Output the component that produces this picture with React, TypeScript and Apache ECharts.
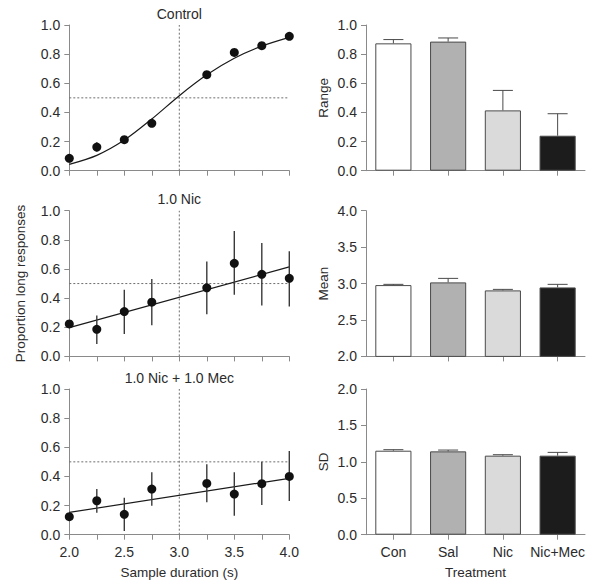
import React, { useEffect, useRef } from "react";
import * as echarts from "echarts";

// ---- Data ----
const durations = [2.0, 2.25, 2.5, 2.75, 3.25, 3.5, 3.75, 4.0];

const controlMean = [0.085, 0.162, 0.213, 0.325, 0.659, 0.812, 0.858, 0.922];
const controlLow = [0.075, 0.13, 0.195, 0.31, 0.65, 0.8, 0.85, 0.915];
const controlHigh = [0.095, 0.195, 0.235, 0.34, 0.668, 0.824, 0.866, 0.93];

const nicMean = [0.223, 0.186, 0.308, 0.372, 0.471, 0.639, 0.563, 0.536];
const nicLow = [0.205, 0.085, 0.154, 0.214, 0.29, 0.423, 0.349, 0.343];
const nicHigh = [0.24, 0.28, 0.457, 0.531, 0.651, 0.86, 0.779, 0.722];

const mecMean = [0.124, 0.233, 0.14, 0.313, 0.352, 0.279, 0.35, 0.4];
const mecLow = [0.11, 0.151, 0.025, 0.199, 0.222, 0.13, 0.204, 0.231];
const mecHigh = [0.14, 0.313, 0.254, 0.428, 0.483, 0.428, 0.501, 0.574];

// fitted curves
const controlFitX = [2.0, 2.25, 2.5, 2.75, 3.0, 3.25, 3.5, 3.75, 4.0];
const controlFitY = [0.043, 0.105, 0.21, 0.355, 0.515, 0.658, 0.772, 0.855, 0.915];
const nicFitX = [2.0, 4.0];
const nicFitY = [0.198, 0.614];
const mecFitX = [2.0, 4.0];
const mecFitY = [0.153, 0.387];

const criterion = 0.5;
const bisection = 3.0;

const panelTitles = ["Control", "1.0 Nic", "1.0 Nic + 1.0 Mec"];

const treatments = ["Con", "Sal", "Nic", "Nic+Mec"];
const rangeVals = [0.874, 0.886, 0.414, 0.24];
const rangeErr = [0.9, 0.911, 0.551, 0.391];
const meanVals = [2.979, 3.016, 2.906, 2.947];
const meanErr = [2.989, 3.071, 2.92, 2.989];
const sdVals = [1.153, 1.144, 1.085, 1.085];
const sdErr = [1.167, 1.162, 1.098, 1.13];

const barColors = ["#ffffff", "#b1b1b1", "#dadada", "#1c1c1c"];

const FONT = "Liberation Sans";
const TXT = "#2b2b2b";
const AX = "#8a8a8a";

export default function App() {
  const ref = useRef<HTMLDivElement>(null);

  useEffect(() => {
    document.body.style.margin = "0";
    const chart = echarts.init(ref.current!, null, { renderer: "svg" });

    const leftTops = [25, 210.7, 389];
    const H = 145.7;
    const grids: any[] = [];
    const xAxes: any[] = [];
    const yAxes: any[] = [];
    const series: any[] = [];

    const leftSets = [
      { mean: controlMean, low: controlLow, high: controlHigh, fx: controlFitX, fy: controlFitY },
      { mean: nicMean, low: nicLow, high: nicHigh, fx: nicFitX, fy: nicFitY },
      { mean: mecMean, low: mecLow, high: mecHigh, fx: mecFitX, fy: mecFitY },
    ];

    const axisCommon = {
      axisLine: { show: true, lineStyle: { color: AX, width: 1 } },
      axisTick: { show: true, length: 5, lineStyle: { color: AX } },
      splitLine: { show: false },
    };

    leftSets.forEach((s, k) => {
      const gi = grids.length;
      grids.push({ left: 69.3, top: leftTops[k], width: 220, height: H, containLabel: false });
      xAxes.push({
        gridIndex: gi,
        type: "value",
        min: 2,
        max: 4,
        interval: 0.25,
        ...axisCommon,
        axisLabel: {
          show: k === 2,
          margin: 10,
          fontFamily: FONT,
          fontSize: 14,
          color: TXT,
          formatter: (v: number) => (Math.abs(v * 2 - Math.round(v * 2)) < 1e-6 ? v.toFixed(1) : ""),
        },
        name: k === 2 ? "Sample duration (s)" : "",
        nameLocation: "middle",
        nameGap: 31,
        nameTextStyle: { fontFamily: FONT, fontSize: 13.5, color: TXT },
      });
      yAxes.push({
        gridIndex: gi,
        type: "value",
        min: 0,
        max: 1,
        interval: 0.2,
        ...axisCommon,
        axisLabel: { margin: 9, fontFamily: FONT, fontSize: 14, color: TXT, formatter: (v: number) => v.toFixed(1) },
        name: k === 1 ? "Proportion long responses" : "",
        nameLocation: "middle",
        nameGap: 42,
        nameRotate: 90,
        nameTextStyle: { fontFamily: FONT, fontSize: 13.5, color: TXT },
      });
      const dotted = { type: [2, 2], color: "#6e6e6e", width: 1 };
      series.push({
        type: "line",
        xAxisIndex: gi,
        yAxisIndex: gi,
        data: [[2, criterion], [4, criterion]],
        symbol: "none",
        lineStyle: dotted,
        silent: true,
        z: 1,
      });
      series.push({
        type: "line",
        xAxisIndex: gi,
        yAxisIndex: gi,
        data: [[bisection, 0], [bisection, 1]],
        symbol: "none",
        lineStyle: dotted,
        silent: true,
        z: 1,
      });
      series.push({
        type: "line",
        xAxisIndex: gi,
        yAxisIndex: gi,
        data: s.fx.map((x, i) => [x, s.fy[i]]),
        symbol: "none",
        smooth: 0.3,
        lineStyle: { color: "#1a1a1a", width: 1.2 },
        z: 2,
      });
      series.push({
        type: "custom",
        xAxisIndex: gi,
        yAxisIndex: gi,
        data: durations.map((d, i) => [d, s.low[i], s.high[i]]),
        encode: { x: 0, y: [1, 2] },
        renderItem: (params: any, api: any) => {
          const a = api.coord([api.value(0), api.value(1)]);
          const b = api.coord([api.value(0), api.value(2)]);
          return {
            type: "line",
            shape: { x1: a[0], y1: a[1], x2: b[0], y2: b[1] },
            style: { stroke: "#3a3a3a", lineWidth: 1.4 },
          };
        },
        z: 3,
      });
      series.push({
        type: "scatter",
        xAxisIndex: gi,
        yAxisIndex: gi,
        data: durations.map((d, i) => [d, s.mean[i]]),
        symbol: "circle",
        symbolSize: 9,
        itemStyle: { color: "#111111", opacity: 1 },
        z: 4,
      });
    });

    const rightSets = [
      { vals: rangeVals, err: rangeErr, min: 0, max: 1, interval: 0.2, name: "Range" },
      { vals: meanVals, err: meanErr, min: 2, max: 4, interval: 0.5, name: "Mean" },
      { vals: sdVals, err: sdErr, min: 0, max: 2, interval: 0.5, name: "SD" },
    ];

    rightSets.forEach((s, k) => {
      const gi = grids.length;
      grids.push({ left: 366, top: leftTops[k], width: 219, height: H, containLabel: false });
      xAxes.push({
        gridIndex: gi,
        type: "category",
        data: treatments,
        ...axisCommon,
        axisTick: { show: true, length: 5, alignWithLabel: true, lineStyle: { color: AX } },
        axisLabel: { show: k === 2, margin: 10, fontFamily: FONT, fontSize: 14, color: TXT, interval: 0 },
        name: k === 2 ? "Treatment" : "",
        nameLocation: "middle",
        nameGap: 31,
        nameTextStyle: { fontFamily: FONT, fontSize: 13.5, color: TXT },
      });
      yAxes.push({
        gridIndex: gi,
        type: "value",
        min: s.min,
        max: s.max,
        interval: s.interval,
        ...axisCommon,
        axisLabel: { margin: 9, fontFamily: FONT, fontSize: 14, color: TXT, formatter: (v: number) => v.toFixed(1) },
        name: s.name,
        nameLocation: "middle",
        nameGap: 36,
        nameRotate: 90,
        nameTextStyle: { fontFamily: FONT, fontSize: 13.5, color: TXT },
      });
      series.push({
        type: "bar",
        xAxisIndex: gi,
        yAxisIndex: gi,
        barWidth: "66%",
        clip: true,
        data: s.vals.map((v, i) => ({
          value: v,
          itemStyle: { color: barColors[i], borderColor: "#4a4a4a", borderWidth: 1 },
        })),
        z: 2,
      });
      series.push({
        type: "custom",
        xAxisIndex: gi,
        yAxisIndex: gi,
        data: s.vals.map((v, i) => [i, v, s.err[i]]),
        encode: { x: 0, y: [1, 2] },
        renderItem: (params: any, api: any) => {
          const a = api.coord([api.value(0), api.value(1)]);
          const b = api.coord([api.value(0), api.value(2)]);
          const st = { stroke: "#4a4a4a", lineWidth: 1 };
          return {
            type: "group",
            children: [
              { type: "line", shape: { x1: a[0], y1: a[1], x2: b[0], y2: b[1] }, style: st },
              { type: "line", shape: { x1: b[0] - 10, y1: b[1], x2: b[0] + 10, y2: b[1] }, style: st },
            ],
          };
        },
        z: 3,
      });
    });

    const titleTop = [7, 192, 371];
    const titles = panelTitles.map((t, k) => ({
      text: t,
      left: 179.3,
      top: titleTop[k],
      textAlign: "center",
      padding: 0,
      textStyle: {
        fontFamily: FONT,
        fontSize: 14,
        fontWeight: "normal",
        color: TXT,
      },
    }));

    chart.setOption({
      animation: false,
      backgroundColor: "#ffffff",
      title: titles,
      grid: grids,
      xAxis: xAxes,
      yAxis: yAxes,
      series,
    });

    return () => chart.dispose();
  }, []);

  return <div ref={ref} style={{ width: 600, height: 587 }} />;
}
